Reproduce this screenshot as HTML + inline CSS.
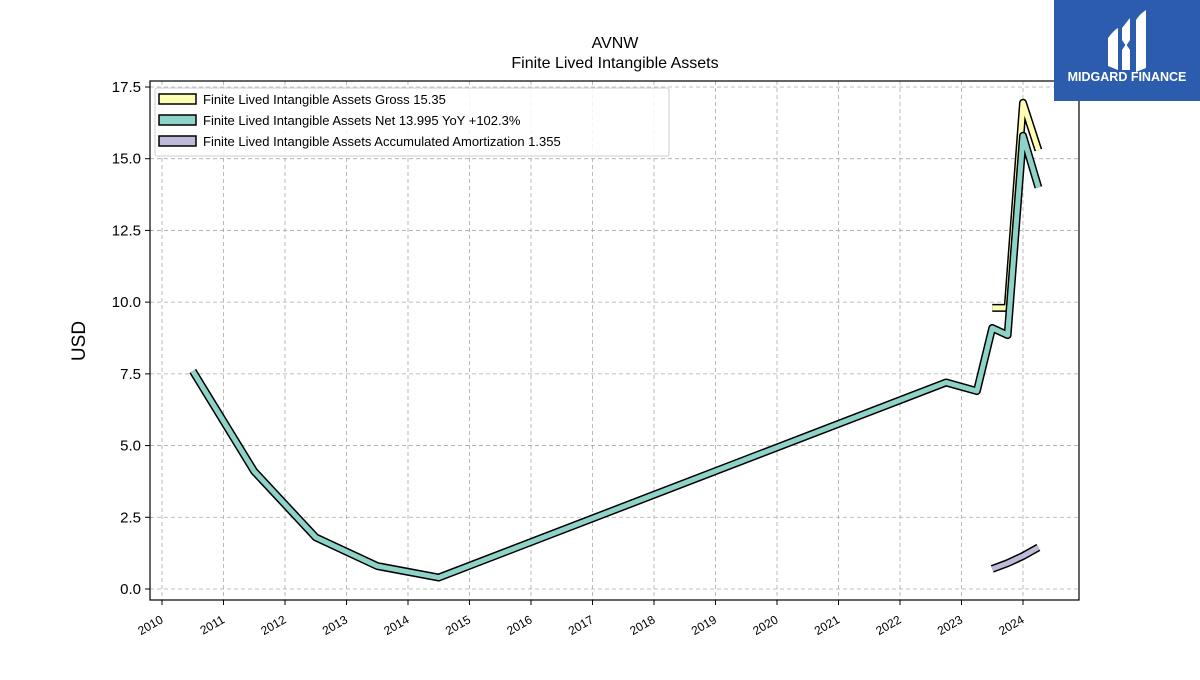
<!DOCTYPE html>
<html><head><meta charset="utf-8"><style>
body{margin:0;background:#fff;}
svg text{font-family:"Liberation Sans","DejaVu Sans",sans-serif;}
</style></head><body>
<svg id="chart" width="1200" height="675" xmlns="http://www.w3.org/2000/svg">
<rect width="1200" height="675" fill="#fff"/>
<text x="615" y="48" text-anchor="middle" font-size="16">AVNW</text>
<text x="615" y="68" text-anchor="middle" font-size="16">Finite Lived Intangible Assets</text>
<text transform="translate(85,341) rotate(-90)" text-anchor="middle" font-size="19">USD</text>
<g id="grid"></g>
<g id="series"></g>
<rect x="150" y="81" width="929" height="519" fill="none" stroke="#000" stroke-width="1.2"/>
<g id="axes"></g>
<g>
<rect x="155" y="88" width="514" height="68" fill="#fff" fill-opacity="0.85" stroke="#ccc" rx="2"/>
<g><rect x="159" y="94" width="37" height="10" fill="#ffffb3" stroke="#000" stroke-width="1.5"/><text x="203" y="104" font-size="13">Finite Lived Intangible Assets Gross  15.35</text></g>
<g><rect x="159" y="115" width="37" height="10" fill="#8dd3c7" stroke="#000" stroke-width="1.5"/><text x="203" y="125" font-size="13">Finite Lived Intangible Assets Net  13.995 YoY +102.3%</text></g>
<g><rect x="159" y="136" width="37" height="10" fill="#bebada" stroke="#000" stroke-width="1.5"/><text x="203" y="146" font-size="13">Finite Lived Intangible Assets Accumulated Amortization  1.355</text></g>
</g>
<g>
<rect x="1054" y="0" width="146" height="101" fill="#2b5cad"/>
<path d="M1108 38 q6 -8 10 -10 v42 l-10 -4z M1122 28 l8 -10 v22 l-4 6 -4 -6z M1122 50 l4 -6 4 6 v20 h-8z M1136 20 q4 -6 10 -10 v58 l-10 4z" fill="#fff"/>
<text x="1127" y="81" text-anchor="middle" font-size="12.5" font-weight="bold" fill="#fff">MIDGARD FINANCE</text>
</g>
</svg>
<script>
const years=[2010,2011,2012,2013,2014,2015,2016,2017,2018,2019,2020,2021,2022,2023,2024];
const yTicks=[0,2.5,5,7.5,10,12.5,15,17.5];
const netX=[2010.5,2011.5,2012.5,2013.5,2014.5,2022.75,2023.25,2023.5,2023.75,2024.0,2024.25];
const netY=[7.6,4.1,1.8,0.8,0.4,7.2,6.9,9.1,8.85,15.8,14.0];
const grossX=[2023.5,2023.75,2024.0,2024.25];
const grossY=[9.8,9.8,16.95,15.3];
const amortX=[2023.5,2023.75,2024.0,2024.25];
const amortY=[0.7,0.9,1.15,1.45];
const NS='http://www.w3.org/2000/svg';
const xs=v=>162+(v-2010)*61.5;
const ys=v=>589-v*28.686;
function mk(t,a,p){const e=document.createElementNS(NS,t);for(const k in a)e.setAttribute(k,a[k]);p.appendChild(e);return e;}
const grid=document.getElementById('grid'),axes=document.getElementById('axes'),ser=document.getElementById('series');
years.forEach(y=>{
 const l=mk('line',{x1:xs(y),x2:xs(y),y1:81,y2:600,stroke:'#aaa','stroke-dasharray':'4,3','stroke-width':0.8},grid);
 
 
 mk('line',{x1:xs(y),x2:xs(y),y1:600,y2:605,stroke:'#000'},axes);
 const t=mk('text',{x:xs(y)+2,y:622,'font-size':12,'text-anchor':'end',transform:`rotate(-30 ${xs(y)+2} 622)`},axes);
 t.textContent=y;
 
 
});
yTicks.forEach(v=>{
 const l=mk('line',{x1:150,x2:1079,y1:ys(v),y2:ys(v),stroke:'#aaa','stroke-dasharray':'4,3','stroke-width':0.8},grid);
 
 
 mk('line',{x1:145,x2:150,y1:ys(v),y2:ys(v),stroke:'#000'},axes);
 const t=mk('text',{x:141,y:ys(v)+5,'font-size':15,'text-anchor':'end'},axes);
 t.textContent=v.toFixed(1);
 
 
});
function draw(X,Y,c,name){
 const pts=X.map((x,i)=>xs(x)+','+ys(Y[i])).join(' ');
 const g=mk('g',{},ser);
 
 
 mk('polyline',{points:pts,fill:'none',stroke:'#000','stroke-width':8,'stroke-linejoin':'round'},g);
 mk('polyline',{points:pts,fill:'none',stroke:c,'stroke-width':5,'stroke-linejoin':'round'},g);
}
draw(grossX,grossY,'#ffffb3','gross-line');
draw(netX,netY,'#8dd3c7','net-line');
draw(amortX,amortY,'#bebada','amortization-line');
</script>
</body></html>
